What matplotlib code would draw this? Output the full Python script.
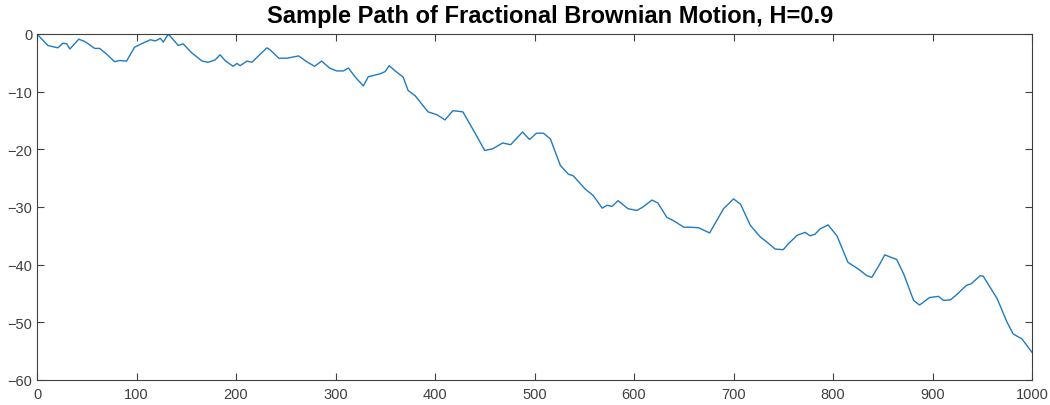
import numpy as np
import matplotlib
matplotlib.use('Agg')
import matplotlib.pyplot as plt

# sample path of fractional Brownian motion, H=0.9 (values per step index)
t = [0, 11, 21, 26, 30, 33, 42, 48, 58, 63, 70, 78, 83, 90, 98, 105, 114, 119, 124, 127,
     132, 142, 147, 155, 166, 172, 179, 184, 189, 197, 201, 204, 211, 216, 222, 231, 234,
     243, 251, 263, 271, 279, 286, 294, 301, 308, 313, 320, 328, 333, 345, 350, 354, 360,
     368, 373, 380, 393, 402, 410, 418, 428, 438, 450, 458, 468, 476, 488, 495, 502, 509,
     516, 526, 534, 539, 551, 559, 568, 573, 578, 584, 594, 603, 609, 618, 624, 633, 640,
     650, 656, 665, 676, 690, 700, 707, 717, 727, 733, 742, 750, 755, 764, 772, 777, 782,
     787, 795, 804, 815, 825, 834, 839, 846, 852, 864, 871, 881, 887, 897, 906, 911, 918,
     923, 934, 939, 948, 951, 965, 975, 981, 990, 1000]
bh = [0, -2.0, -2.4, -1.6, -1.7, -2.6, -0.9, -1.3, -2.5, -2.5, -3.5, -4.8, -4.6, -4.7, -2.3,
      -1.7, -1.0, -1.2, -0.75, -1.4, 0, -2.0, -1.7, -3.2, -4.7, -4.9, -4.5, -3.6, -4.6, -5.6,
      -5.1, -5.5, -4.7, -4.9, -3.9, -2.4, -2.7, -4.2, -4.2, -3.8, -4.8, -5.6, -4.7, -5.9,
      -6.4, -6.4, -5.9, -7.5, -9.0, -7.4, -6.9, -6.5, -5.5, -6.4, -7.5, -9.8, -10.7, -13.5,
      -14.0, -14.9, -13.3, -13.5, -16.5, -20.2, -19.9, -18.9, -19.2, -17.0, -18.3, -17.2,
      -17.2, -18.2, -22.8, -24.3, -24.6, -26.9, -28.0, -30.2, -29.7, -29.9, -28.9, -30.3,
      -30.6, -30.0, -28.8, -29.3, -31.8, -32.4, -33.5, -33.5, -33.6, -34.5, -30.3, -28.6,
      -29.5, -33.2, -35.2, -36.0, -37.3, -37.4, -36.4, -34.9, -34.4, -35.0, -34.7, -33.8,
      -33.1, -35.0, -39.6, -40.7, -41.9, -42.2, -40.2, -38.3, -39.1, -41.6, -46.2, -47.0,
      -45.7, -45.5, -46.2, -46.1, -45.4, -43.6, -43.3, -41.9, -42.0, -45.9, -50.0, -52.0,
      -52.9, -55.2]

plt.rcParams['font.family'] = ['Liberation Sans', 'DejaVu Sans']

fig = plt.figure(figsize=(10.5, 4.06), dpi=100)
ax = fig.add_axes([37/1050, 1-381/406, 995/1050, 346/406])
ax.plot(t, bh, color='#1f7bbf', linewidth=1.0)

ax.set_xlim(0, 1000)
ax.set_ylim(-60, 0)
ax.set_xticks(np.arange(0, 1001, 100))
ax.set_yticks(np.arange(-60, 1, 10))
ax.tick_params(direction='in', top=True, right=True, length=5, width=0.8,
               colors='#404040', labelsize=10.5)
ax.tick_params(axis='x', pad=5)
for s in ax.spines.values():
    s.set_color('#404040')
    s.set_linewidth(0.8)

ax.set_title('Sample Path of Fractional Brownian Motion, H=0.9', fontsize=17,
             fontweight='bold', pad=9, x=0.516)

fig.savefig('out.png', dpi=100)
